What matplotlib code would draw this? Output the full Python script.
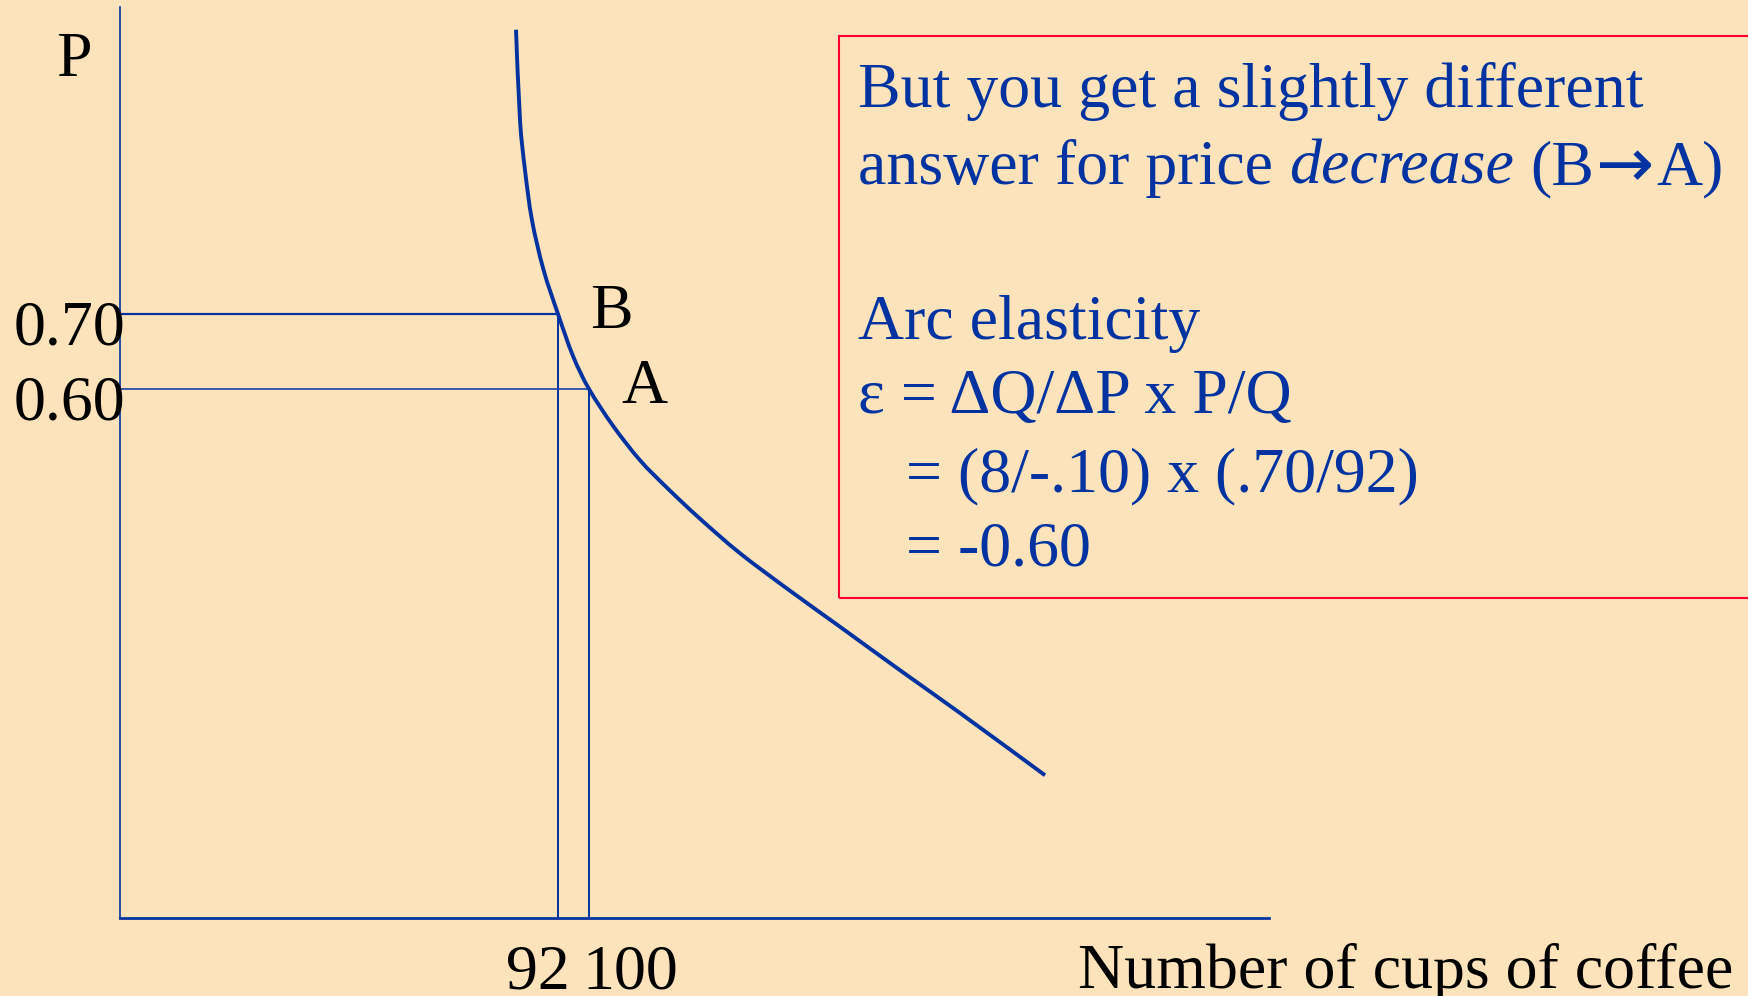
import matplotlib
matplotlib.use("Agg")
import numpy as np
import matplotlib.pyplot as plt
from matplotlib.path import Path
from matplotlib.patches import PathPatch, Rectangle

# ---- data ----------------------------------------------------------------
# demand curve (quantity of cups, price)
q_curve = [81.16, 82.19, 83.48, 85.29, 88.26, 92.00, 95.87, 100.00, 106.19,
           113.16, 120.39, 128.65, 138.97, 151.87, 164.77, 180.26, 195.74, 217.68]
p_curve = [1.079, 0.959, 0.892, 0.825, 0.759, 0.700, 0.644, 0.600, 0.551,
           0.505, 0.467, 0.427, 0.381, 0.331, 0.283, 0.225, 0.168, 0.085]

# the two marked points
point_names = ["B", "A"]
point_q = [92, 100]
point_p = [0.70, 0.60]
price_labels = ["0.70", "0.60"]
qty_labels = ["92", "100"]

x_label = "Number of cups of coffee"
y_label = "P"

box_lines = [
    "But you get a slightly different",
    ("answer for price", "decrease", "(B", "\u2192", "A)"),
    "",
    "Arc elasticity",
    "\u03b5 = \u0394Q/\u0394P x P/Q",
    "= (8/-.10) x (.70/92)",
    "= -0.60",
]

# ---- style ---------------------------------------------------------------
W, H = 1749, 996
BG = "#fde3bb"
BLUE = "#0033a0"
RED = "#ff0030"
FONT = ["Liberation Serif", "DejaVu Serif"]
FS = 46

plt.rcParams["font.family"] = FONT

fig = plt.figure(figsize=(W / 100, H / 100), dpi=100, facecolor=BG)


def fpos(px, py):
    return px / W, 1 - py / H


def put(px, py, s, **kw):
    x, y = fpos(px, py)
    kw.setdefault("fontsize", FS)
    return fig.text(x, y, s, ha="left", va="baseline", **kw)


# ---- axes ----------------------------------------------------------------
X_MIN, X_MAX = -21.03, 275.48
Y_MIN, Y_MAX = -0.1053, 1.1093
ax = fig.add_axes([120 / W, (H - 918) / H, (1269 - 120) / W, (918 - 7) / H])
ax.set_facecolor("none")
ax.set_xlim(X_MIN, X_MAX)
ax.set_ylim(Y_MIN, Y_MAX)
for side in ("top", "right"):
    ax.spines[side].set_visible(False)
ax.spines["left"].set_color(BLUE)
ax.spines["left"].set_linewidth(1.2)
ax.spines["bottom"].set_color(BLUE)
ax.spines["bottom"].set_linewidth(2.0)
ax.set_xticks([])
ax.set_yticks([])


def smooth_path(xs, ys):
    """Catmull-Rom spline through the points, as cubic Bezier segments."""
    pts = np.column_stack([xs, ys]).astype(float)
    n = len(pts)
    verts = [pts[0]]
    codes = [Path.MOVETO]
    for i in range(n - 1):
        p0 = pts[i - 1] if i > 0 else pts[i]
        p1 = pts[i]
        p2 = pts[i + 1]
        p3 = pts[i + 2] if i + 2 < n else pts[i + 1]
        c1 = p1 + (p2 - p0) / 6.0
        c2 = p2 - (p3 - p1) / 6.0
        verts += [c1, c2, p2]
        codes += [Path.CURVE4] * 3
    return Path(verts, codes)


ax.add_patch(PathPatch(smooth_path(q_curve, p_curve), fill=False,
                       edgecolor=BLUE, lw=2.8, capstyle="butt", zorder=3))

# guide lines to the axes
h_widths = [1.6, 1.1]
for q, p, lw in zip(point_q, point_p, h_widths):
    ax.plot([X_MIN, q], [p, p], color=BLUE, lw=lw, solid_capstyle="butt")
    ax.plot([q, q], [p, Y_MIN], color=BLUE, lw=1.4, solid_capstyle="butt")

# point names
for name, q, p in zip(point_names, point_q, point_p):
    ax.annotate(name, xy=(q, p), xytext=(32, -14), textcoords="offset pixels",
                ha="left", va="baseline", fontsize=FS, color="black")

# price labels at the left of the axis
for lab, p in zip(price_labels, point_p):
    ax.annotate(lab, xy=(X_MIN, p), xytext=(5, -31), textcoords="offset pixels",
                ha="right", va="baseline", fontsize=FS, color="black",
                annotation_clip=False)

# quantity labels under the axis
qty_offsets = [-52, -7]
for lab, q, dx in zip(qty_labels, point_q, qty_offsets):
    ax.annotate(lab, xy=(q, Y_MIN), xytext=(dx, -70), textcoords="offset pixels",
                ha="left", va="baseline", fontsize=FS, color="black",
                annotation_clip=False)

# axis titles
put(56, 76, y_label, color="black")
put(1078, 988, x_label, color="black")

# ---- explanation box -----------------------------------------------------
bx, by = fpos(839, 598)
fig.patches.append(Rectangle((bx, by), (1765 - 839) / W, (598 - 36) / H,
                             transform=fig.transFigure, fill=False,
                             edgecolor=RED, lw=1.5, zorder=1))

renderer = fig.canvas.get_renderer()


def width_px(s, **kw):
    t = put(0, 0, s, **kw)
    w = t.get_window_extent(renderer).width
    t.remove()
    return w


space = width_px("a a", color=BLUE) - width_px("aa", color=BLUE)

baselines = [107, 184, 262, 339, 413, 491, 566]
indents = [858, 858, 858, 858, 858, 906, 906]
for line, y, x in zip(box_lines, baselines, indents):
    if not line:
        continue
    if isinstance(line, tuple):
        pre, emph, left, arrow, right = line
        t = put(x, y, pre, color=BLUE)
        x1 = t.get_window_extent(renderer).x1 + space
        t = put(x1, y, emph, color=BLUE, style="italic")
        x2 = t.get_window_extent(renderer).x1 + space
        t = put(x2, y, left, color=BLUE)
        x3 = t.get_window_extent(renderer).x1 + 2
        t = put(x3, y + 3, arrow, color=BLUE, family="DejaVu Sans", fontsize=FS + 4)
        x4 = t.get_window_extent(renderer).x1 + 2
        put(x4, y, right, color=BLUE)
    else:
        put(x, y, line, color=BLUE)

fig.savefig("out.png", dpi=100, facecolor=BG)
